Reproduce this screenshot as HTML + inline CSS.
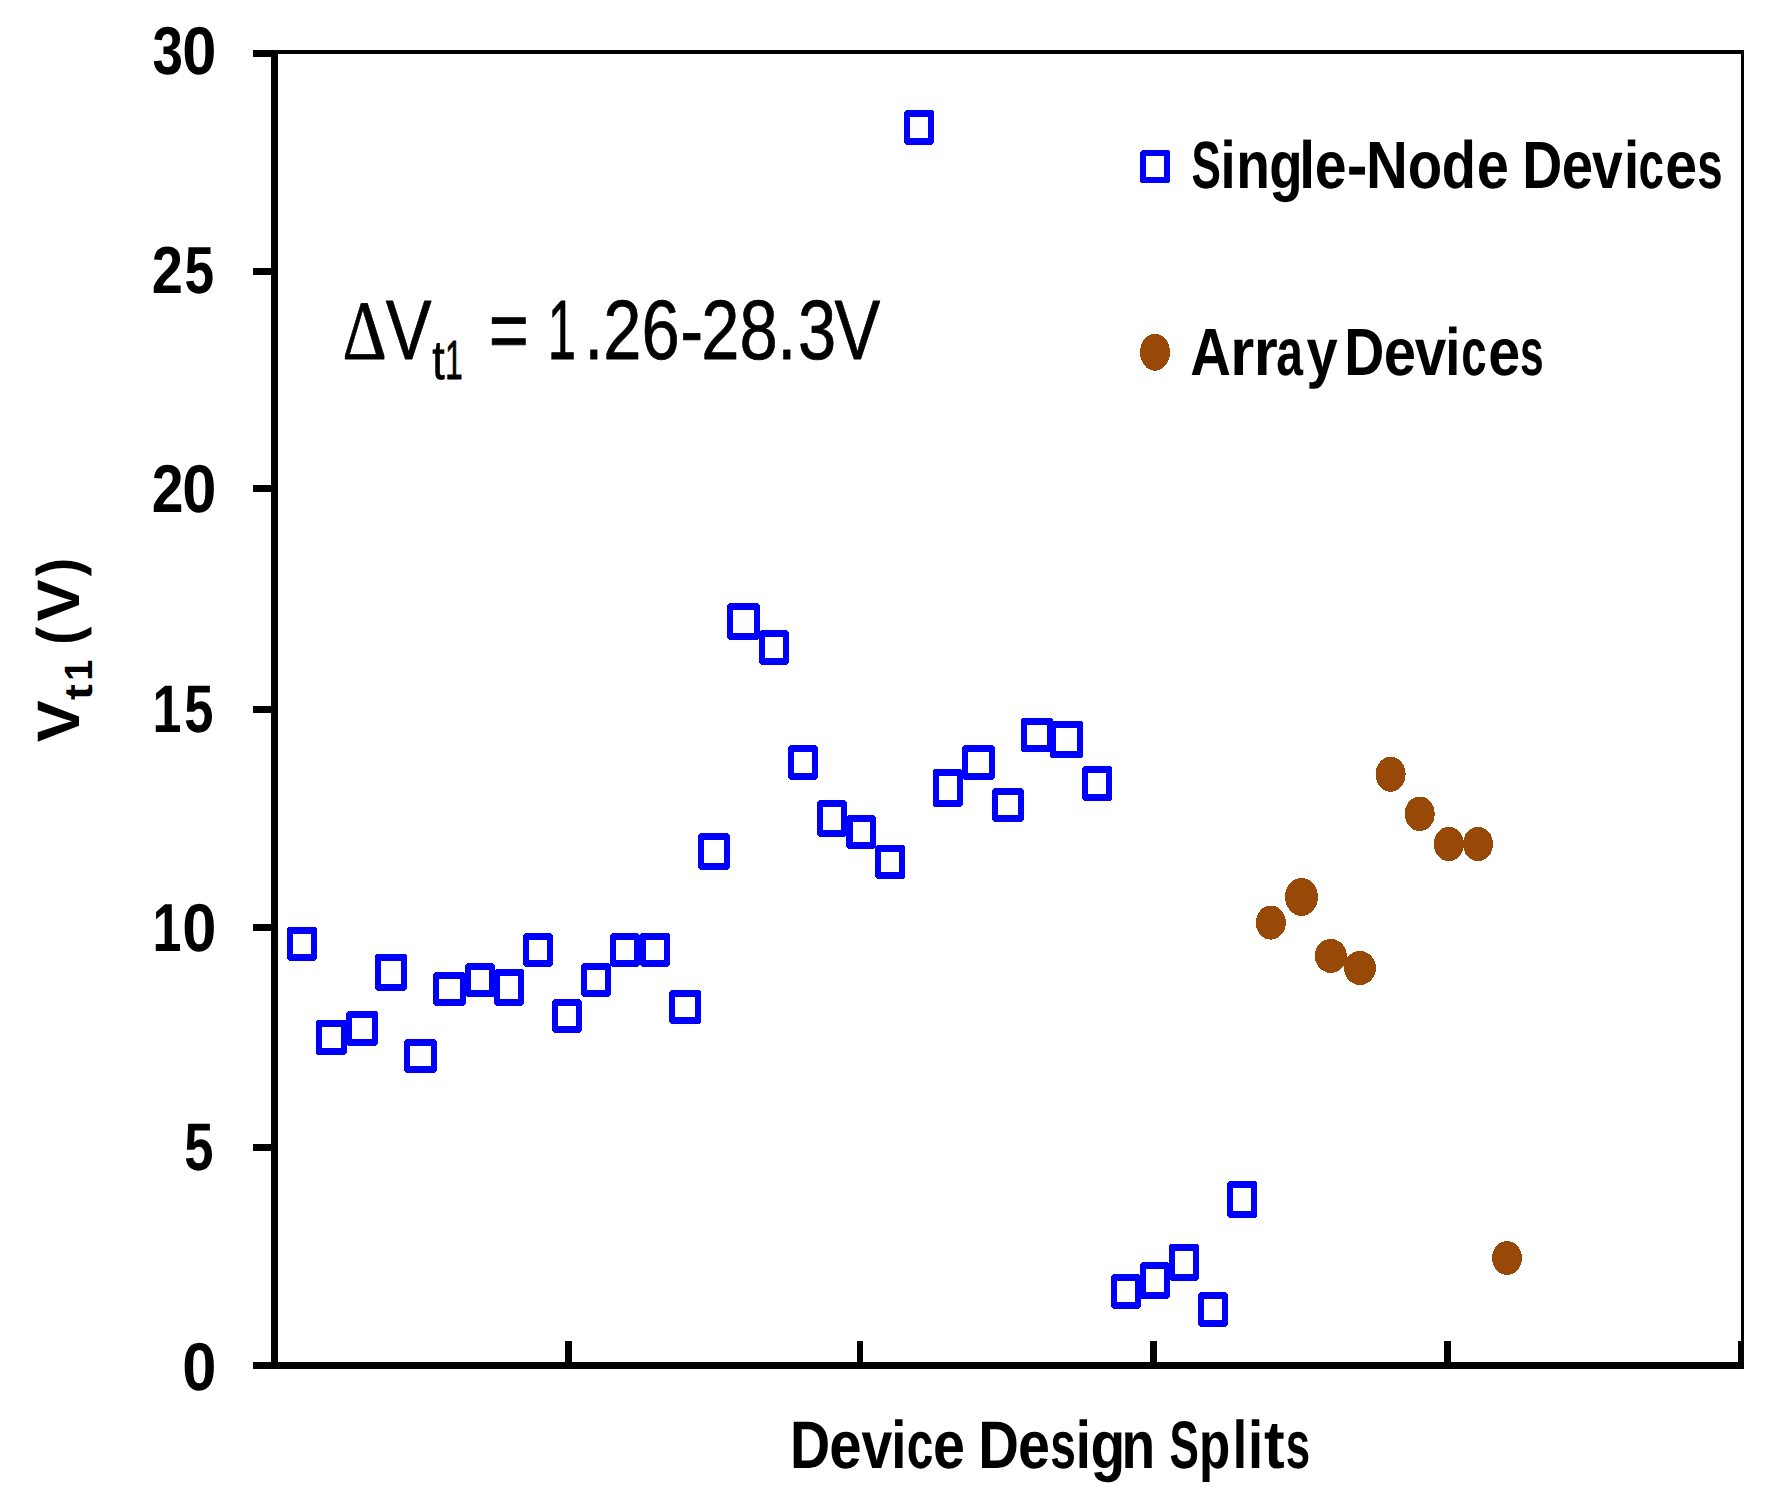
<!DOCTYPE html>
<html lang="en"><head><meta charset="utf-8"><title>Vt1 vs Device Design Splits</title>
<style>html,body{margin:0;padding:0;background:#fff;width:1786px;height:1495px;overflow:hidden}svg{display:block}text{font-family:"Liberation Sans",sans-serif}</style></head>
<body>
<svg width="1786" height="1495" viewBox="0 0 1786 1495" shape-rendering="crispEdges" text-rendering="geometricPrecision">
<rect width="1786" height="1495" fill="#fff"/>
<g id="axes">
<rect x="271" y="50" width="7" height="1319" fill="#000"/>
<rect x="253" y="1362" width="1491" height="7" fill="#000"/>
<rect x="271" y="50" width="1473" height="4" fill="#000"/>
<rect x="1741" y="50" width="3" height="1319" fill="#000"/>
<rect x="253" y="50" width="19" height="7" fill="#000"/>
<rect x="253" y="268" width="19" height="7" fill="#000"/>
<rect x="253" y="485" width="19" height="7" fill="#000"/>
<rect x="253" y="706" width="19" height="7" fill="#000"/>
<rect x="253" y="924" width="19" height="7" fill="#000"/>
<rect x="253" y="1144" width="19" height="7" fill="#000"/>
<rect x="565" y="1341" width="7" height="22" fill="#000"/>
<rect x="857" y="1341" width="6" height="22" fill="#000"/>
<rect x="1150" y="1341" width="7" height="22" fill="#000"/>
<rect x="1444" y="1341" width="7" height="22" fill="#000"/>
<rect x="1738" y="1341" width="6" height="22" fill="#000"/>
</g>
<g id="markers" shape-rendering="crispEdges">
<path d="M289.1,926.9H314.9L316.9,928.9V959.1L314.9,961.1H289.1L287.1,959.1V928.9ZM293.2,933.9V954.1H310.8V933.9Z" fill="#0000ff" fill-rule="evenodd"/>
<path d="M317.8,1020.0H345.0L347.0,1022.0V1052.9L345.0,1054.9H317.8L315.8,1052.9V1022.0ZM321.9,1027.0V1047.9H340.9V1027.0Z" fill="#0000ff" fill-rule="evenodd"/>
<path d="M348.1,1011.0H376.0L378.0,1013.0V1043.6L376.0,1045.6H348.1L346.1,1043.6V1013.0ZM352.2,1018.0V1038.6H371.9V1018.0Z" fill="#0000ff" fill-rule="evenodd"/>
<path d="M377.0,953.9H405.1L407.1,955.9V988.9L405.1,990.9H377.0L375.0,988.9V955.9ZM381.1,960.9V983.9H401.0V960.9Z" fill="#0000ff" fill-rule="evenodd"/>
<path d="M406.0,1039.0H434.8L436.8,1041.0V1070.9L434.8,1072.9H406.0L404.0,1070.9V1041.0ZM410.1,1046.0V1065.9H430.7V1046.0Z" fill="#0000ff" fill-rule="evenodd"/>
<path d="M435.1,972.1H463.9L465.9,974.1V1004.0L463.9,1006.0H435.1L433.1,1004.0V974.1ZM439.2,979.1V999.0H459.8V979.1Z" fill="#0000ff" fill-rule="evenodd"/>
<path d="M467.2,963.1H493.0L495.0,965.1V995.0L493.0,997.0H467.2L465.2,995.0V965.1ZM471.3,970.1V990.0H488.9V970.1Z" fill="#0000ff" fill-rule="evenodd"/>
<path d="M496.0,969.0H522.1L524.1,971.0V1003.8L522.1,1005.8H496.0L494.0,1003.8V971.0ZM500.1,976.0V998.8H518.0V976.0Z" fill="#0000ff" fill-rule="evenodd"/>
<path d="M525.0,933.0H550.8L552.8,935.0V964.9L550.8,966.9H525.0L523.0,964.9V935.0ZM529.1,940.0V959.9H546.7V940.0Z" fill="#0000ff" fill-rule="evenodd"/>
<path d="M554.0,999.1H579.8L581.8,1001.1V1031.0L579.8,1033.0H554.0L552.0,1031.0V1001.1ZM558.1,1006.1V1026.0H575.7V1006.1Z" fill="#0000ff" fill-rule="evenodd"/>
<path d="M583.1,963.1H608.9L610.9,965.1V995.0L608.9,997.0H583.1L581.1,995.0V965.1ZM587.2,970.1V990.0H604.8V970.1Z" fill="#0000ff" fill-rule="evenodd"/>
<path d="M612.0,933.0H637.9L639.9,935.0V964.9L637.9,966.9H612.0L610.0,964.9V935.0ZM616.1,940.0V959.9H633.8V940.0Z" fill="#0000ff" fill-rule="evenodd"/>
<path d="M641.9,933.0H668.0L670.0,935.0V964.9L668.0,966.9H641.9L639.9,964.9V935.0ZM646.0,940.0V959.9H663.9V940.0Z" fill="#0000ff" fill-rule="evenodd"/>
<path d="M671.0,990.0H699.0L701.0,992.0V1022.0L699.0,1024.0H671.0L669.0,1022.0V992.0ZM675.1,997.0V1017.0H694.9V997.0Z" fill="#0000ff" fill-rule="evenodd"/>
<path d="M700.0,833.2H727.8L729.8,835.2V867.6L727.8,869.6H700.0L698.0,867.6V835.2ZM704.1,840.2V862.6H723.7V840.2Z" fill="#0000ff" fill-rule="evenodd"/>
<path d="M729.1,603.0H757.8L759.8,605.0V637.8L757.8,639.8H729.1L727.1,637.8V605.0ZM733.2,610.0V632.8H753.7V610.0Z" fill="#0000ff" fill-rule="evenodd"/>
<path d="M761.2,630.1H786.8L788.8,632.1V662.7L786.8,664.7H761.2L759.2,662.7V632.1ZM765.3,637.1V657.7H782.7V637.1Z" fill="#0000ff" fill-rule="evenodd"/>
<path d="M790.0,745.2H815.8L817.8,747.2V777.7L815.8,779.7H790.0L788.0,777.7V747.2ZM794.1,752.2V772.7H811.7V752.2Z" fill="#0000ff" fill-rule="evenodd"/>
<path d="M819.3,800.2H844.9L846.9,802.2V834.7L844.9,836.7H819.3L817.3,834.7V802.2ZM823.4,807.2V829.7H840.8V807.2Z" fill="#0000ff" fill-rule="evenodd"/>
<path d="M848.4,815.2H874.0L876.0,817.2V846.6L874.0,848.6H848.4L846.4,846.6V817.2ZM852.5,822.2V841.6H869.9V822.2Z" fill="#0000ff" fill-rule="evenodd"/>
<path d="M877.2,845.1H903.1L905.1,847.1V877.0L903.1,879.0H877.2L875.2,877.0V847.1ZM881.3,852.1V872.0H899.0V852.1Z" fill="#0000ff" fill-rule="evenodd"/>
<path d="M906.0,110.0H932.0L934.0,112.0V142.9L932.0,144.9H906.0L904.0,142.9V112.0ZM910.1,117.0V137.9H927.9V117.0Z" fill="#0000ff" fill-rule="evenodd"/>
<path d="M934.9,769.1H960.9L962.9,771.1V805.0L960.9,807.0H934.9L932.9,805.0V771.1ZM939.0,776.1V800.0H956.8V776.1Z" fill="#0000ff" fill-rule="evenodd"/>
<path d="M964.1,745.0H992.9L994.9,747.0V778.0L992.9,780.0H964.1L962.1,778.0V747.0ZM968.2,752.0V773.0H988.8V752.0Z" fill="#0000ff" fill-rule="evenodd"/>
<path d="M994.0,788.0H1021.9L1023.9,790.0V819.9L1021.9,821.9H994.0L992.0,819.9V790.0ZM998.1,795.0V814.9H1017.8V795.0Z" fill="#0000ff" fill-rule="evenodd"/>
<path d="M1022.9,718.0H1051.1L1053.1,720.0V750.0L1051.1,752.0H1022.9L1020.9,750.0V720.0ZM1027.0,725.0V745.0H1047.0V725.0Z" fill="#0000ff" fill-rule="evenodd"/>
<path d="M1051.9,720.9H1081.1L1083.1,722.9V756.0L1081.1,758.0H1051.9L1049.9,756.0V722.9ZM1056.0,727.9V751.0H1077.0V727.9Z" fill="#0000ff" fill-rule="evenodd"/>
<path d="M1084.0,766.0H1110.2L1112.2,768.0V798.9L1110.2,800.9H1084.0L1082.0,798.9V768.0ZM1088.1,773.0V793.9H1106.1V773.0Z" fill="#0000ff" fill-rule="evenodd"/>
<path d="M1113.0,1274.0H1138.9L1140.9,1276.0V1307.0L1138.9,1309.0H1113.0L1111.0,1307.0V1276.0ZM1117.1,1281.0V1302.0H1134.8V1281.0Z" fill="#0000ff" fill-rule="evenodd"/>
<path d="M1142.0,1262.1H1167.9L1169.9,1264.1V1297.1L1167.9,1299.1H1142.0L1140.0,1297.1V1264.1ZM1146.1,1269.1V1292.1H1163.8V1269.1Z" fill="#0000ff" fill-rule="evenodd"/>
<path d="M1171.0,1243.9H1196.9L1198.9,1245.9V1278.9L1196.9,1280.9H1171.0L1169.0,1278.9V1245.9ZM1175.1,1250.9V1273.9H1192.8V1250.9Z" fill="#0000ff" fill-rule="evenodd"/>
<path d="M1200.0,1292.0H1225.9L1227.9,1294.0V1324.9L1225.9,1326.9H1200.0L1198.0,1324.9V1294.0ZM1204.1,1299.0V1319.9H1221.8V1299.0Z" fill="#0000ff" fill-rule="evenodd"/>
<path d="M1229.0,1181.0H1255.2L1257.2,1183.0V1216.0L1255.2,1218.0H1229.0L1227.0,1216.0V1183.0ZM1233.1,1188.0V1211.0H1251.1V1188.0Z" fill="#0000ff" fill-rule="evenodd"/>
<path d="M1142.0,150.0H1168.0L1170.0,152.0V181.4L1168.0,183.4H1142.0L1140.0,181.4V152.0ZM1145.8,156.0V177.4H1164.2V156.0Z" fill="#0000ff" fill-rule="evenodd"/>
<ellipse cx="1270.8" cy="922.6" rx="15" ry="17" fill="#984807"/>
<ellipse cx="1301.5" cy="896.9" rx="16.5" ry="19" fill="#984807"/>
<ellipse cx="1330.8" cy="955.9" rx="16" ry="17" fill="#984807"/>
<ellipse cx="1360" cy="968" rx="16" ry="17" fill="#984807"/>
<ellipse cx="1390.6" cy="774.3" rx="15" ry="17.5" fill="#984807"/>
<ellipse cx="1419.7" cy="813.8" rx="15" ry="17.3" fill="#984807"/>
<ellipse cx="1448.8" cy="844" rx="15" ry="17.2" fill="#984807"/>
<ellipse cx="1478" cy="844" rx="15" ry="17.2" fill="#984807"/>
<ellipse cx="1507" cy="1258" rx="15" ry="16.8" fill="#984807"/>
<ellipse cx="1155" cy="352.2" rx="15" ry="18.6" fill="#984807"/>
</g>
<g id="labels">
<text transform="translate(0.00,74.32) scale(0.5810,0.6784)" font-size="100" fill="#000" xml:space="preserve"><tspan font-family="Liberation Sans, sans-serif" font-weight="bold" font-size="100.00" x="262.43" y="0.00" textLength="52.53" lengthAdjust="spacingAndGlyphs">3</tspan><tspan font-family="Liberation Sans, sans-serif" font-weight="bold" font-size="100.00" x="313.85" y="0.00" textLength="58.85" lengthAdjust="spacingAndGlyphs">0</tspan></text>
<text transform="translate(0.00,293.13) scale(0.5467,0.6671)" font-size="100" fill="#000" xml:space="preserve"><tspan font-family="Liberation Sans, sans-serif" font-weight="bold" font-size="100.00" x="277.57" y="0.00" textLength="57.02" lengthAdjust="spacingAndGlyphs">2</tspan><tspan font-family="Liberation Sans, sans-serif" font-weight="bold" font-size="100.00" x="337.44" y="0.00" textLength="54.26" lengthAdjust="spacingAndGlyphs">5</tspan></text>
<text transform="translate(0.00,512.32) scale(0.5927,0.6784)" font-size="100" fill="#000" xml:space="preserve"><tspan font-family="Liberation Sans, sans-serif" font-weight="bold" font-size="100.00" x="255.96" y="0.00" textLength="53.57" lengthAdjust="spacingAndGlyphs">2</tspan><tspan font-family="Liberation Sans, sans-serif" font-weight="bold" font-size="100.00" x="307.66" y="0.00" textLength="57.69" lengthAdjust="spacingAndGlyphs">0</tspan></text>
<text transform="translate(0.00,732.33) scale(0.5229,0.6738)" font-size="100" fill="#000" xml:space="preserve"><tspan font-family="Liberation Sans, sans-serif" font-weight="bold" font-size="100.00" x="291.72" y="0.00" textLength="55.35" lengthAdjust="spacingAndGlyphs">1</tspan><tspan font-family="Liberation Sans, sans-serif" font-weight="bold" font-size="100.00" x="352.43" y="0.00" textLength="55.87" lengthAdjust="spacingAndGlyphs">5</tspan></text>
<text transform="translate(0.00,951.32) scale(0.5681,0.6784)" font-size="100" fill="#000" xml:space="preserve"><tspan font-family="Liberation Sans, sans-serif" font-weight="bold" font-size="100.00" x="268.53" y="0.00" textLength="50.95" lengthAdjust="spacingAndGlyphs">1</tspan><tspan font-family="Liberation Sans, sans-serif" font-weight="bold" font-size="100.00" x="320.97" y="0.00" textLength="60.18" lengthAdjust="spacingAndGlyphs">0</tspan></text>
<text transform="translate(0.00,1170.33) scale(0.5253,0.6738)" font-size="100" fill="#000" xml:space="preserve"><tspan font-family="Liberation Sans, sans-serif" font-weight="bold" font-size="100.00" x="350.87" y="0.00" textLength="55.62" lengthAdjust="spacingAndGlyphs">5</tspan></text>
<text transform="translate(0.00,1390.32) scale(0.6147,0.6784)" font-size="100" fill="#000" xml:space="preserve"><tspan font-family="Liberation Sans, sans-serif" font-weight="bold" font-size="100.00" x="296.62" y="0.00" textLength="55.62" lengthAdjust="spacingAndGlyphs">0</tspan></text>
<text transform="translate(0.00,187.80) scale(0.5441,0.6676)" font-size="100" fill="#000" xml:space="preserve"><tspan font-family="Liberation Sans, sans-serif" font-weight="bold" font-size="100.00" x="2189.67" y="0.00" textLength="53.96" lengthAdjust="spacingAndGlyphs">S</tspan><tspan font-family="Liberation Sans, sans-serif" font-weight="bold" font-size="100.00" x="2243.16" y="0.00" textLength="27.85" lengthAdjust="spacingAndGlyphs">i</tspan><tspan font-family="Liberation Sans, sans-serif" font-weight="bold" font-size="100.00" x="2272.27" y="0.00" textLength="61.81" lengthAdjust="spacingAndGlyphs">n</tspan><tspan font-family="Liberation Sans, sans-serif" font-weight="bold" font-size="100.00" x="2332.54" y="0.00" textLength="61.36" lengthAdjust="spacingAndGlyphs">g</tspan><tspan font-family="Liberation Sans, sans-serif" font-weight="bold" font-size="100.00" x="2387.71" y="0.00" textLength="28.97" lengthAdjust="spacingAndGlyphs">l</tspan><tspan font-family="Liberation Sans, sans-serif" font-weight="bold" font-size="100.00" x="2416.35" y="0.00" textLength="58.47" lengthAdjust="spacingAndGlyphs">e</tspan><tspan font-family="Liberation Sans, sans-serif" font-weight="bold" font-size="100.00" x="2475.35" y="0.00" textLength="38.06" lengthAdjust="spacingAndGlyphs">-</tspan><tspan font-family="Liberation Sans, sans-serif" font-weight="bold" font-size="100.00" x="2510.78" y="0.00" textLength="76.82" lengthAdjust="spacingAndGlyphs">N</tspan><tspan font-family="Liberation Sans, sans-serif" font-weight="bold" font-size="100.00" x="2587.34" y="0.00" textLength="63.25" lengthAdjust="spacingAndGlyphs">o</tspan><tspan font-family="Liberation Sans, sans-serif" font-weight="bold" font-size="100.00" x="2649.85" y="0.00" textLength="62.92" lengthAdjust="spacingAndGlyphs">d</tspan><tspan font-family="Liberation Sans, sans-serif" font-weight="bold" font-size="100.00" x="2714.23" y="0.00" textLength="59.11" lengthAdjust="spacingAndGlyphs">e</tspan><tspan font-family="Liberation Sans, sans-serif" font-weight="bold" font-size="100.00" x="2773.34" y="0.00"> </tspan><tspan font-family="Liberation Sans, sans-serif" font-weight="bold" font-size="100.00" x="2797.81" y="0.00" textLength="73.46" lengthAdjust="spacingAndGlyphs">D</tspan><tspan font-family="Liberation Sans, sans-serif" font-weight="bold" font-size="100.00" x="2870.56" y="0.00" textLength="57.62" lengthAdjust="spacingAndGlyphs">e</tspan><tspan font-family="Liberation Sans, sans-serif" font-weight="bold" font-size="100.00" x="2926.03" y="0.00" textLength="56.27" lengthAdjust="spacingAndGlyphs">v</tspan><tspan font-family="Liberation Sans, sans-serif" font-weight="bold" font-size="100.00" x="2984.85" y="0.00" textLength="27.85" lengthAdjust="spacingAndGlyphs">i</tspan><tspan font-family="Liberation Sans, sans-serif" font-weight="bold" font-size="100.00" x="3011.38" y="0.00" textLength="46.97" lengthAdjust="spacingAndGlyphs">c</tspan><tspan font-family="Liberation Sans, sans-serif" font-weight="bold" font-size="100.00" x="3060.54" y="0.00" textLength="58.47" lengthAdjust="spacingAndGlyphs">e</tspan><tspan font-family="Liberation Sans, sans-serif" font-weight="bold" font-size="100.00" x="3119.52" y="0.00" textLength="46.64" lengthAdjust="spacingAndGlyphs">s</tspan></text>
<text transform="translate(0.00,374.70) scale(0.5434,0.6676)" font-size="100" fill="#000" xml:space="preserve"><tspan font-family="Liberation Sans, sans-serif" font-weight="bold" font-size="100.00" x="2190.43" y="0.00" textLength="74.78" lengthAdjust="spacingAndGlyphs">A</tspan><tspan font-family="Liberation Sans, sans-serif" font-weight="bold" font-size="100.00" x="2264.04" y="0.00" textLength="44.13" lengthAdjust="spacingAndGlyphs">r</tspan><tspan font-family="Liberation Sans, sans-serif" font-weight="bold" font-size="100.00" x="2307.10" y="0.00" textLength="44.13" lengthAdjust="spacingAndGlyphs">r</tspan><tspan font-family="Liberation Sans, sans-serif" font-weight="bold" font-size="100.00" x="2348.81" y="0.00" textLength="49.20" lengthAdjust="spacingAndGlyphs">a</tspan><tspan font-family="Liberation Sans, sans-serif" font-weight="bold" font-size="100.00" x="2404.42" y="0.00" textLength="57.35" lengthAdjust="spacingAndGlyphs">y</tspan><tspan font-family="Liberation Sans, sans-serif" font-weight="bold" font-size="100.00" x="2461.78" y="0.00"> </tspan><tspan font-family="Liberation Sans, sans-serif" font-weight="bold" font-size="100.00" x="2473.94" y="0.00" textLength="73.77" lengthAdjust="spacingAndGlyphs">D</tspan><tspan font-family="Liberation Sans, sans-serif" font-weight="bold" font-size="100.00" x="2546.31" y="0.00" textLength="59.39" lengthAdjust="spacingAndGlyphs">e</tspan><tspan font-family="Liberation Sans, sans-serif" font-weight="bold" font-size="100.00" x="2603.61" y="0.00" textLength="58.03" lengthAdjust="spacingAndGlyphs">v</tspan><tspan font-family="Liberation Sans, sans-serif" font-weight="bold" font-size="100.00" x="2659.67" y="0.00" textLength="27.89" lengthAdjust="spacingAndGlyphs">i</tspan><tspan font-family="Liberation Sans, sans-serif" font-weight="bold" font-size="100.00" x="2688.91" y="0.00" textLength="46.82" lengthAdjust="spacingAndGlyphs">c</tspan><tspan font-family="Liberation Sans, sans-serif" font-weight="bold" font-size="100.00" x="2738.84" y="0.00" textLength="58.76" lengthAdjust="spacingAndGlyphs">e</tspan><tspan font-family="Liberation Sans, sans-serif" font-weight="bold" font-size="100.00" x="2797.19" y="0.00" textLength="43.50" lengthAdjust="spacingAndGlyphs">s</tspan></text>
<text transform="translate(0.00,1468.20) scale(0.5385,0.6735)" font-size="100" fill="#000" xml:space="preserve"><tspan font-family="Liberation Sans, sans-serif" font-weight="bold" font-size="100.00" x="1467.00" y="0.00" textLength="74.66" lengthAdjust="spacingAndGlyphs">D</tspan><tspan font-family="Liberation Sans, sans-serif" font-weight="bold" font-size="100.00" x="1540.03" y="0.00" textLength="60.14" lengthAdjust="spacingAndGlyphs">e</tspan><tspan font-family="Liberation Sans, sans-serif" font-weight="bold" font-size="100.00" x="1599.92" y="0.00" textLength="57.23" lengthAdjust="spacingAndGlyphs">v</tspan><tspan font-family="Liberation Sans, sans-serif" font-weight="bold" font-size="100.00" x="1654.99" y="0.00" textLength="28.14" lengthAdjust="spacingAndGlyphs">i</tspan><tspan font-family="Liberation Sans, sans-serif" font-weight="bold" font-size="100.00" x="1683.77" y="0.00" textLength="49.57" lengthAdjust="spacingAndGlyphs">c</tspan><tspan font-family="Liberation Sans, sans-serif" font-weight="bold" font-size="100.00" x="1732.46" y="0.00" textLength="59.29" lengthAdjust="spacingAndGlyphs">e</tspan><tspan font-family="Liberation Sans, sans-serif" font-weight="bold" font-size="100.00" x="1791.75" y="0.00"> </tspan><tspan font-family="Liberation Sans, sans-serif" font-weight="bold" font-size="100.00" x="1816.57" y="0.00" textLength="75.53" lengthAdjust="spacingAndGlyphs">D</tspan><tspan font-family="Liberation Sans, sans-serif" font-weight="bold" font-size="100.00" x="1890.48" y="0.00" textLength="59.29" lengthAdjust="spacingAndGlyphs">e</tspan><tspan font-family="Liberation Sans, sans-serif" font-weight="bold" font-size="100.00" x="1950.24" y="0.00" textLength="47.55" lengthAdjust="spacingAndGlyphs">s</tspan><tspan font-family="Liberation Sans, sans-serif" font-weight="bold" font-size="100.00" x="1997.67" y="0.00" textLength="28.14" lengthAdjust="spacingAndGlyphs">i</tspan><tspan font-family="Liberation Sans, sans-serif" font-weight="bold" font-size="100.00" x="2024.96" y="0.00" textLength="64.46" lengthAdjust="spacingAndGlyphs">g</tspan><tspan font-family="Liberation Sans, sans-serif" font-weight="bold" font-size="100.00" x="2082.51" y="0.00" textLength="62.44" lengthAdjust="spacingAndGlyphs">n</tspan><tspan font-family="Liberation Sans, sans-serif" font-weight="bold" font-size="100.00" x="2144.96" y="0.00"> </tspan><tspan font-family="Liberation Sans, sans-serif" font-weight="bold" font-size="100.00" x="2171.75" y="0.00" textLength="54.52" lengthAdjust="spacingAndGlyphs">S</tspan><tspan font-family="Liberation Sans, sans-serif" font-weight="bold" font-size="100.00" x="2226.34" y="0.00" textLength="57.95" lengthAdjust="spacingAndGlyphs">p</tspan><tspan font-family="Liberation Sans, sans-serif" font-weight="bold" font-size="100.00" x="2289.12" y="0.00" textLength="26.64" lengthAdjust="spacingAndGlyphs">l</tspan><tspan font-family="Liberation Sans, sans-serif" font-weight="bold" font-size="100.00" x="2317.33" y="0.00" textLength="28.14" lengthAdjust="spacingAndGlyphs">i</tspan><tspan font-family="Liberation Sans, sans-serif" font-weight="bold" font-size="100.00" x="2347.49" y="0.00" textLength="38.41" lengthAdjust="spacingAndGlyphs">t</tspan><tspan font-family="Liberation Sans, sans-serif" font-weight="bold" font-size="100.00" x="2387.68" y="0.00" textLength="45.18" lengthAdjust="spacingAndGlyphs">s</tspan></text>
<text transform="translate(0.00,359.00) scale(0.6870,0.8436)" font-size="100" fill="#000" stroke="#000" stroke-width="0.9" stroke-linejoin="round" xml:space="preserve"><tspan font-family="Liberation Serif, serif" font-weight="normal" font-size="100.00" x="498.59" y="0.00">Δ</tspan><tspan font-family="Liberation Sans, sans-serif" font-weight="normal" font-size="100.00" x="561.38" y="0.00">V</tspan><tspan font-family="Liberation Sans, sans-serif" font-weight="normal" font-size="65.50" x="629.09" y="23.47">t</tspan><tspan font-family="Liberation Sans, sans-serif" font-weight="normal" font-size="65.50" x="647.90" y="23.47" textLength="25.83" lengthAdjust="spacingAndGlyphs">1</tspan><tspan font-family="Liberation Sans, sans-serif" font-weight="normal" font-size="100.00" x="673.73 711.51 765.01" y="0.00"> = </tspan><tspan font-family="Liberation Sans, sans-serif" font-weight="normal" font-size="100.00" x="797.21" y="0.00" textLength="41.18" lengthAdjust="spacingAndGlyphs">1</tspan><tspan font-family="Liberation Sans, sans-serif" font-weight="normal" font-size="100.00" x="850.56 877.93 933.67 990.14 1020.58 1076.25 1131.49 1161.73 1214.81" y="0.00">.26-28.3V</tspan></text>
<text transform="translate(79.00,741.70) rotate(-90) scale(0.6300,0.5993)" font-size="100" fill="#000" xml:space="preserve"><tspan font-family="Liberation Sans, sans-serif" font-weight="bold" font-size="100.00" x="-0.99" y="0.00">V</tspan><tspan font-family="Liberation Sans, sans-serif" font-weight="bold" font-size="65.80" x="66.04" y="21.69" textLength="25.27" lengthAdjust="spacingAndGlyphs">t</tspan><tspan font-family="Liberation Sans, sans-serif" font-weight="bold" font-size="65.80" x="96.56" y="21.69" textLength="33.41" lengthAdjust="spacingAndGlyphs">1</tspan><tspan font-family="Liberation Sans, sans-serif" font-weight="bold" font-size="100.00" x="129.98" y="0.00"> </tspan><tspan font-family="Liberation Sans, sans-serif" font-weight="bold" font-size="100.00" x="153.97" y="0.00" textLength="28.51" lengthAdjust="spacingAndGlyphs">(</tspan><tspan font-family="Liberation Sans, sans-serif" font-weight="bold" font-size="100.00" x="190.91" y="0.00">V</tspan><tspan font-family="Liberation Sans, sans-serif" font-weight="bold" font-size="100.00" x="262.80" y="0.00" textLength="29.26" lengthAdjust="spacingAndGlyphs">)</tspan></text>
</g>
</svg>
</body></html>
